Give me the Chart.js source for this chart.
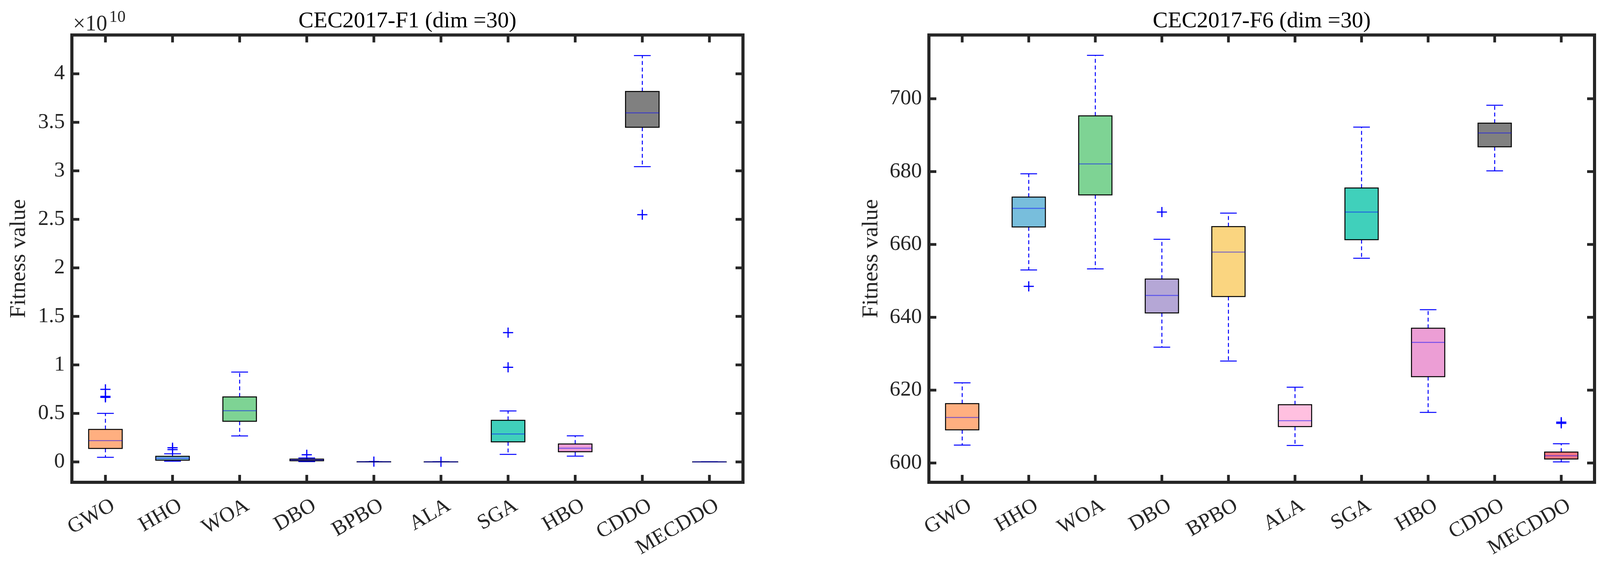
<!DOCTYPE html>
<html>
<head>
<meta charset="utf-8">
<title>CEC2017 boxplots</title>
<script src="https://cdn.jsdelivr.net/npm/chart.js@4.4.1/dist/chart.umd.min.js"></script>
<style>
  body { margin: 0; background: #fff; width: 4130px; height: 1457px; overflow: hidden; position: relative; }
  canvas { position: absolute; top: 0; }
</style>
</head>
<body>
<canvas id="chart-f1" width="2065" height="1457" style="left:0"></canvas>
<canvas id="chart-f6" width="2065" height="1457" style="left:2065px"></canvas>
<script>
// algorithms and box colours
const algorithms = ["GWO", "HHO", "WOA", "DBO", "BPBO", "ALA", "SGA", "HBO", "CDDO", "MECDDO"];
const boxColors = ["#FFAF80", "#78BEDC", "#7ED394", "#B5A7D6", "#FAD580", "#FFC0E0", "#40D0BB", "#EC9ED5", "#808080", "#F77882"];

// CEC2017-F1, values in units of 1e10
const f1Min = [0.048, 0.007, 0.268, 0.003, 0.0, 0.0, 0.078, 0.060, 3.043, 0.0];
const f1Q1 = [0.139, 0.018, 0.419, 0.012, 0.0005, 0.0, 0.207, 0.105, 3.449, 0.0];
const f1Med = [0.220, 0.038, 0.528, 0.020, 0.001, 0.0002, 0.288, 0.141, 3.597, 0.0001];
const f1Q3 = [0.335, 0.058, 0.670, 0.029, 0.0015, 0.0005, 0.429, 0.185, 3.818, 0.0002];
const f1Max = [0.500, 0.084, 0.926, 0.041, 0.002, 0.0008, 0.526, 0.269, 4.188, 0.0003];
const f1Outliers = [[0.665, 0.675, 0.748], [0.127, 0.146], [], [0.074], [0.003], [0.001], [0.975, 1.332], [], [2.548], []];
const f1Ticks = [0, 0.5, 1, 1.5, 2, 2.5, 3, 3.5, 4];

// CEC2017-F6
const f6Min = [604.9, 653.0, 653.3, 631.8, 628.0, 604.8, 656.2, 613.9, 680.2, 600.3];
const f6Q1 = [609.1, 664.8, 673.6, 641.2, 645.7, 610.0, 661.3, 623.7, 686.8, 601.1];
const f6Med = [612.5, 669.9, 682.1, 646.0, 657.9, 611.6, 668.9, 633.1, 690.6, 602.0];
const f6Q3 = [616.3, 673.0, 695.3, 650.5, 664.9, 616.0, 675.5, 637.0, 693.3, 603.0];
const f6Max = [622.0, 679.4, 711.9, 661.4, 668.6, 620.8, 692.2, 642.1, 698.2, 605.3];
const f6Outliers = [[], [648.5], [], [668.9], [], [], [], [], [], [610.9, 611.2]];
const f6Ticks = [600, 620, 640, 660, 680, 700];

const FONT = "'Liberation Serif', 'Times New Roman', serif";
const INK = "#262626";

// whiskers, caps, box outline and median, placed with the chart's own scales
const boxRenderer = s => ({
  id: 'boxRenderer',
  afterDatasetsDraw(chart) {
    const ctx = chart.ctx, y = chart.scales.y;
    const line = (x1, y1, x2, y2) => { ctx.beginPath(); ctx.moveTo(x1, y1); ctx.lineTo(x2, y2); ctx.stroke(); };
    ctx.save();
    chart.getDatasetMeta(0).data.forEach((bar, i) => {
      const cx = bar.x, w = bar.width;
      const pMin = y.getPixelForValue(s.min[i]), pQ1 = y.getPixelForValue(s.q1[i]);
      const pMed = y.getPixelForValue(s.med[i]), pQ3 = y.getPixelForValue(s.q3[i]);
      const pMax = y.getPixelForValue(s.max[i]);
      ctx.lineWidth = 2.5;
      ctx.strokeStyle = '#0000ff';
      ctx.setLineDash([10, 7]);
      line(cx, pQ3, cx, pMax);
      line(cx, pQ1, cx, pMin);
      ctx.setLineDash([]);
      line(cx - w / 4, pMax, cx + w / 4, pMax);
      line(cx - w / 4, pMin, cx + w / 4, pMin);
      ctx.strokeStyle = '#000';
      ctx.strokeRect(cx - w / 2, pQ3, w, pQ1 - pQ3);
      ctx.strokeStyle = 'rgba(0,0,255,0.5)';
      line(cx - w / 2, pMed, cx + w / 2, pMed);
    });
    ctx.restore();
  }
});

// matlab-like box with inward ticks on all four sides
const frameAndTicks = {
  id: 'frameAndTicks',
  afterDraw(chart) {
    const {ctx, chartArea: a, scales: {x, y}} = chart;
    const T = 19, W = 7;
    ctx.save();
    ctx.fillStyle = INK;
    y.ticks.forEach(t => {
      const py = y.getPixelForValue(t.value);
      ctx.fillRect(a.left, py - W / 2, T, W);
      ctx.fillRect(a.right - T, py - W / 2, T, W);
    });
    x.ticks.forEach((t, i) => {
      const px = x.getPixelForTick(i);
      ctx.fillRect(px - W / 2, a.top, W, T);
      ctx.fillRect(px - W / 2, a.bottom - T, W, T);
    });
    ctx.strokeStyle = INK;
    ctx.lineWidth = 8;
    ctx.strokeRect(a.left, a.top, a.right - a.left, a.bottom - a.top);
    ctx.restore();
  }
};

const exponentLabel = e => ({
  id: 'exponentLabel',
  afterDraw(chart) {
    const {ctx, chartArea: a} = chart;
    ctx.save();
    ctx.fillStyle = INK;
    ctx.textBaseline = 'alphabetic';
    ctx.font = '56px ' + FONT;
    ctx.fillText('×10', a.left + 3, a.top - 12);
    const w = ctx.measureText('×10').width;
    ctx.font = '42px ' + FONT;
    ctx.fillText(e, a.left + 3 + w + 5, a.top - 34);
    ctx.restore();
  }
});

function boxPlot(id, s, o) {
  const outlierPts = algorithms.flatMap((a, i) => s.out[i].map(v => ({x: a, y: v})));
  return new Chart(document.getElementById(id), {
    data: {
      labels: algorithms,
      datasets: [{
        type: 'bar',
        data: algorithms.map((a, i) => [s.q1[i], s.q3[i]]),
        backgroundColor: boxColors,
        borderWidth: 0,
        barPercentage: 0.5,
        categoryPercentage: 1
      }, {
        type: 'line',
        data: outlierPts,
        showLine: false,
        pointStyle: 'cross',
        pointRadius: 13,
        pointBorderWidth: 3,
        borderColor: '#0000ff',
        pointBorderColor: '#0000ff'
      }]
    },
    options: {
      responsive: false,
      animation: false,
      devicePixelRatio: 1,
      layout: {padding: {left: o.padLeft, right: o.padRight, top: 0, bottom: 0}},
      plugins: {
        legend: {display: false},
        tooltip: {enabled: false},
        title: {
          display: true, text: o.title, fullSize: false, color: '#000',
          font: {family: FONT, size: 58, weight: 'normal'},
          padding: {top: 20, bottom: 0}
        }
      },
      scales: {
        x: {
          type: 'category',
          offset: true,
          grid: {display: false, drawTicks: false},
          border: {display: false},
          ticks: {
            color: INK, font: {family: FONT, size: 54},
            minRotation: 30, maxRotation: 30, padding: 28, labelOffset: 20, autoSkip: false
          },
          afterFit: sc => { sc.height = 222; }
        },
        y: {
          min: o.yMin,
          max: o.yMax,
          grid: {display: false, drawTicks: false},
          border: {display: false},
          afterBuildTicks: sc => { sc.ticks = o.ticks.map(v => ({value: v})); },
          ticks: {color: INK, font: {family: FONT, size: 55}, padding: 18, callback: v => String(v)},
          title: {
            display: true, text: 'Fitness value', color: INK,
            font: {family: FONT, size: 58}, padding: {top: 14, bottom: 0}
          },
          afterFit: sc => { sc.width = o.axisWidth; }
        }
      }
    },
    plugins: [boxRenderer(s), frameAndTicks].concat(o.exponent ? [exponentLabel(o.exponent)] : [])
  });
}

boxPlot('chart-f1',
  {min: f1Min, q1: f1Q1, med: f1Med, q3: f1Q3, max: f1Max, out: f1Outliers},
  {title: 'CEC2017-F1 (dim =30)', yMin: -0.21, yMax: 4.40, ticks: f1Ticks,
   padLeft: 0, padRight: 163, axisWidth: 184, exponent: '10'});

boxPlot('chart-f6',
  {min: f6Min, q1: f6Q1, med: f6Med, q3: f6Q3, max: f6Max, out: f6Outliers},
  {title: 'CEC2017-F6 (dim =30)', yMin: 594.7, yMax: 717.5, ticks: f6Ticks,
   padLeft: 117, padRight: 48, axisWidth: 196});
</script>
</body>
</html>
